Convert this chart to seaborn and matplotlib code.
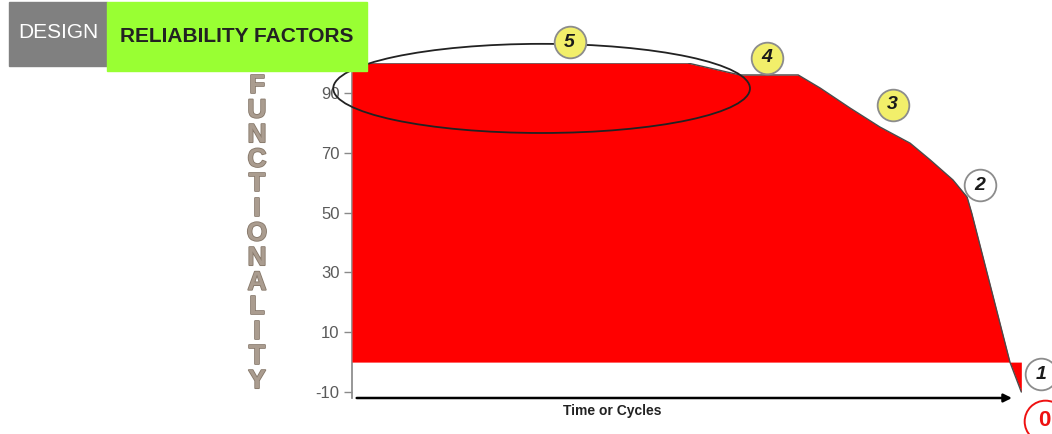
import matplotlib
matplotlib.use("Agg")
import matplotlib.pyplot as plt
import matplotlib.patheffects as pe
from matplotlib.patches import Ellipse, Rectangle
import seaborn as sns

# functionality curve (time in % of life, functionality in %)
time = [0, 50.1, 57.9, 66.6, 69.9, 74.3, 78.8, 83.3, 86.3, 89.7, 91.8, 92.5, 98.2, 99.9]
functionality = [100, 100, 96, 96, 91.6, 85, 78.6, 73.2, 67.6, 60.9, 55.2, 49.8, 0, -10]

y_ticks = [-10, 10, 30, 50, 70, 90]

# numbered stage markers
stage_labels = ["5", "4", "3", "2", "1"]
stage_x = [32.5, 61.9, 80.7, 93.7, 102.8]
stage_y = [107, 101.7, 86, 59.2, -4.0]
stage_face = ["#f2ef6a", "#f2ef6a", "#f2ef6a", "white", "white"]

zero_x, zero_y = 103.4, -19.6

ylabel_letters = list("FUNCTIONALITY")

sns.set_theme(style="white")
plt.rcParams["font.family"] = ["Liberation Sans", "DejaVu Sans"]
plt.rcParams["axes.unicode_minus"] = False

W, H = 1052, 434
fig = plt.figure(figsize=(W / 100, H / 100), dpi=100)
ax = fig.add_axes([352 / W, (H - 398) / H, 670 / W, (398 - 63) / H])

ax.fill_between(time, functionality, 0, color="#ff0000", linewidth=0, zorder=3)
sns.lineplot(x=time, y=functionality, sort=False, color="#4a4a4a", linewidth=1.0,
             ax=ax, zorder=4)

ax.set_xlim(0, 100)
ax.set_ylim(-12, 100)
ax.set_yticks(y_ticks)
ax.set_xticks([])
ax.tick_params(axis="y", colors="#8a8a8a", labelcolor="#5a5a5a", labelsize=12,
               length=6, width=1, direction="out", left=True, pad=3)
for s in ["top", "right", "bottom"]:
    ax.spines[s].set_visible(False)
ax.spines["left"].set_color("#8a8a8a")
ax.set_xlabel("")
ax.set_ylabel("")

# ellipse around the flat top
ax.add_patch(Ellipse((28.3, 91.5), 62.2, 29.8, fill=False, edgecolor="#222222",
                     linewidth=1.3, clip_on=False, zorder=6))

# time axis arrow
ax.annotate("", xy=(98.5, -12), xytext=(0.7, -12),
            arrowprops=dict(arrowstyle="-|>", color="black", lw=1.8,
                            mutation_scale=12, shrinkA=0, shrinkB=0),
            annotation_clip=False, zorder=6)
fig.text(612 / W, 1 - 411 / H, "Time or Cycles", ha="center", va="center",
         fontsize=10, fontweight="bold", color="#222222")

# stage circles
for lab, x, y, fc in zip(stage_labels, stage_x, stage_y, stage_face):
    ax.scatter([x], [y], s=520, color=fc, edgecolor="#8c8c8c", linewidth=1.3,
               clip_on=False, zorder=7)
    ax.text(x, y, lab, ha="center", va="center", fontsize=14, fontweight="bold",
            fontstyle="italic", color="#1a1a1a", clip_on=False, zorder=8)
ax.scatter([zero_x], [zero_y], s=900, color="white", edgecolor="#ee1111",
           linewidth=1.4, clip_on=False, zorder=7)
ax.text(zero_x, zero_y, "0", ha="center", va="center", fontsize=16,
        fontweight="bold", color="#ee1111", clip_on=False, zorder=8)

# vertical stacked y label
for i, ch in enumerate(ylabel_letters):
    fig.text(257 / W, 1 - (86 + i * 24.6) / H, ch, ha="center", va="center",
             fontsize=19, fontweight="bold", color="#aa9c8f", zorder=5,
             path_effects=[pe.withStroke(linewidth=1.2, foreground="#857769")])

# header boxes
fig.patches.append(Rectangle((9 / W, 1 - 66 / H), 98 / W, 64 / H,
                             transform=fig.transFigure, color="#808080", zorder=0))
fig.patches.append(Rectangle((107 / W, 1 - 71 / H), 260 / W, 69 / H,
                             transform=fig.transFigure, color="#99ff33", zorder=0))
fig.text(58 / W, 1 - 33 / H, "DESIGN", ha="center", va="center", fontsize=15,
         color="white")
fig.text(237 / W, 1 - 36 / H, "RELIABILITY FACTORS", ha="center", va="center",
         fontsize=15, fontweight="bold", color="#222222")

fig.savefig("out.png", dpi=100)
